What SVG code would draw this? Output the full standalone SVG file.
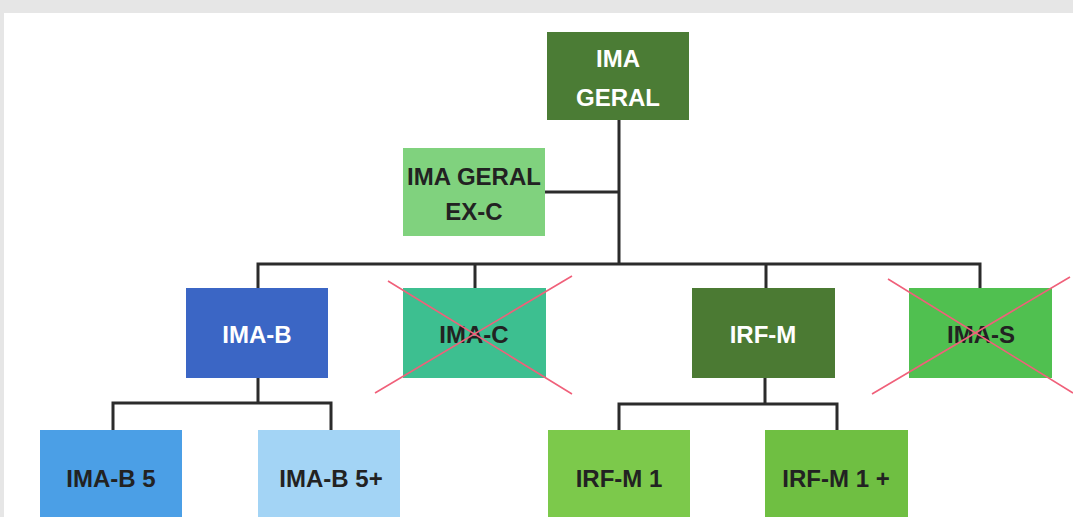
<svg xmlns="http://www.w3.org/2000/svg" width="1073" height="517" viewBox="0 0 1073 517">
<style>
.lbl{font-family:"Liberation Sans",Arial,sans-serif;font-weight:bold;font-size:24px;text-anchor:middle}
.w{fill:#ffffff}
.d{fill:#222222}
.conn{stroke:#2b2b2b;stroke-width:3;fill:none;stroke-linecap:square}
.x{stroke:#f0607a;stroke-width:1.6;fill:none}
</style>
<rect x="0" y="0" width="1073" height="517" fill="#e6e6e6"/>
<rect x="4" y="13" width="1069" height="504" fill="#ffffff"/>
<g id="connectors">
<path class="conn" d="M619 120 V264 M545 192 H619 M258 264 H980 M258 264 V288 M475 264 V288 M766 264 V288 M980 264 V288"/>
<path class="conn" d="M258 378 V403 M113 403 H331 M113 403 V430 M331 403 V430"/>
<path class="conn" d="M765 378 V404 M619 404 H837 M619 404 V430 M837 404 V430"/>
</g>
<g id="ima-geral">
<rect x="547" y="32" width="142" height="88" fill="#4b7c35"/>
<text class="lbl w" x="618" y="67">IMA</text>
<text class="lbl w" x="618" y="106">GERAL</text>
</g>
<g id="ima-geral-ex-c">
<rect x="403" y="148" width="142" height="88" fill="#80d27e"/>
<text class="lbl d" x="474" y="185">IMA GERAL</text>
<text class="lbl d" x="474" y="220">EX-C</text>
</g>
<g id="ima-b">
<rect x="186" y="288" width="142" height="90" fill="#3b66c5"/>
<text class="lbl w" x="257" y="343">IMA-B</text>
</g>
<g id="ima-c">
<rect x="403" y="288" width="143" height="90" fill="#3dbf90"/>
<text class="lbl d" x="474" y="343">IMA-C</text>
<path class="x" d="M388 281 L572 394 M375 393 L572 276"/>
</g>
<g id="irf-m">
<rect x="692" y="288" width="143" height="90" fill="#4b7a33"/>
<text class="lbl w" x="763" y="343">IRF-M</text>
</g>
<g id="ima-s">
<rect x="909" y="288" width="143" height="90" fill="#50c050"/>
<text class="lbl d" x="981" y="343">IMA-S</text>
<path class="x" d="M888 279 L1073 393 M872 394 L1070 277"/>
</g>
<g id="ima-b-5">
<rect x="40" y="430" width="142" height="90" fill="#4b9fe6"/>
<text class="lbl d" x="111" y="487">IMA-B 5</text>
</g>
<g id="ima-b-5plus">
<rect x="258" y="430" width="142" height="90" fill="#a3d4f5"/>
<text class="lbl d" x="331" y="487">IMA-B 5+</text>
</g>
<g id="irf-m-1">
<rect x="548" y="430" width="142" height="90" fill="#7cc94b"/>
<text class="lbl d" x="619" y="487">IRF-M 1</text>
</g>
<g id="irf-m-1plus">
<rect x="765" y="430" width="143" height="90" fill="#6fbf42"/>
<text class="lbl d" x="836" y="487">IRF-M 1 +</text>
</g>
</svg>
